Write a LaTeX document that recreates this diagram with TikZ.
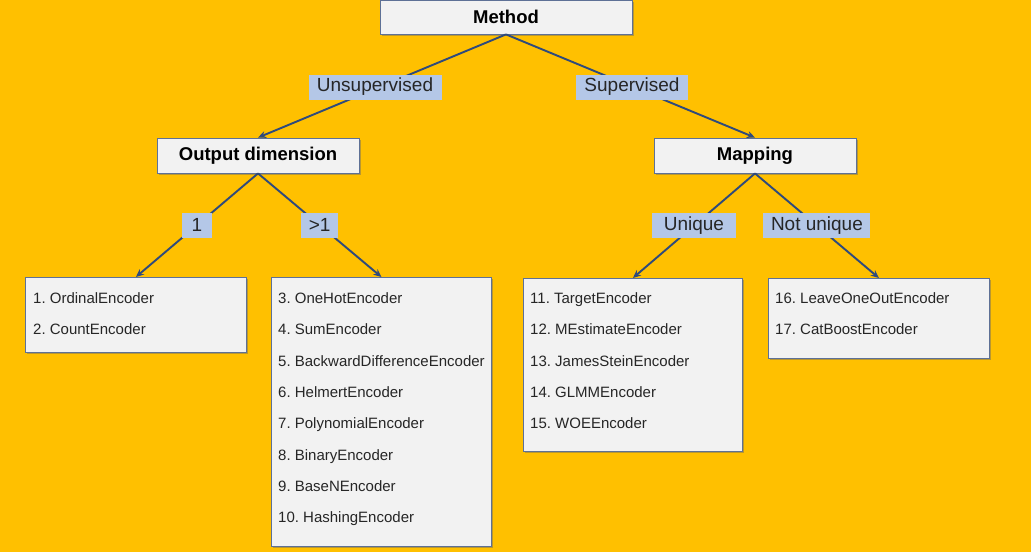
\documentclass[tikz,border=0pt]{standalone}
\usepackage{fontspec}
\setmainfont{Liberation Sans}
\usetikzlibrary{shadows,arrows.meta}
\definecolor{bg}{HTML}{FFC000}
\definecolor{boxfill}{HTML}{F2F2F2}
\definecolor{boxline}{HTML}{5E7196}
\definecolor{labfill}{HTML}{B4C7E7}
\definecolor{conn}{HTML}{2F4A7C}
\frenchspacing
\begin{document}
\begin{tikzpicture}[x=1pt,y=-1pt,
  shad/.style={drop shadow={shadow xshift=2pt,shadow yshift=-2pt,opacity=0.45,fill=black!60}},
  title/.style={draw=boxline,line width=0.8pt,fill=boxfill,shad,inner sep=0pt,
    font=\fontsize{18.5}{22}\selectfont\bfseries},
  listbox/.style={draw=boxline,line width=0.8pt,fill=boxfill,shad,inner sep=0pt,anchor=north west},
  items/.style={anchor=north west,inner sep=0pt,align=left,text=black!85,
    font=\fontsize{15}{31.3}\selectfont},
  lab/.style={fill=labfill,inner sep=0pt,minimum height=25pt,text=black!85,
    font=\fontsize{19}{22}\selectfont},
  conn/.style={draw=conn,line width=1.9pt,-{Stealth[length=8pt,width=7pt]}}
]
\fill[bg] (0,0) rectangle (1031,552);
\useasboundingbox (0,0) rectangle (1031,552);

% title boxes
\node[title,minimum width=252pt,minimum height=34pt] (method) at (506,17) {Method};
\node[title,minimum width=202pt,minimum height=35pt] (od) at (258,155.5) {Output dimension};
\node[title,minimum width=202pt,minimum height=35pt] (map) at (755,155.5) {Mapping};

% list boxes
\node[listbox,minimum width=221pt,minimum height=75pt] (b1) at (25,277) {};
\node[listbox,minimum width=220pt,minimum height=269pt] (b2) at (271,277) {};
\node[listbox,minimum width=219pt,minimum height=173pt] (b3) at (523,278) {};
\node[listbox,minimum width=221pt,minimum height=80pt] (b4) at (768,278) {};

\node[items] (t1) at ([xshift=8pt,yshift=-15.5pt]b1.north west)
  {1. OrdinalEncoder\\2. CountEncoder};
\node[items] (t2) at ([xshift=7pt,yshift=-15.5pt]b2.north west)
  {3. OneHotEncoder\\4. SumEncoder\\5. BackwardDifferenceEncoder\\6. HelmertEncoder\\7. PolynomialEncoder\\8. BinaryEncoder\\9. BaseNEncoder\\10. HashingEncoder};
\node[items] (t3) at ([xshift=7pt,yshift=-14.5pt]b3.north west)
  {11. TargetEncoder\\12. MEstimateEncoder\\13. JamesSteinEncoder\\14. GLMMEncoder\\15. WOEEncoder};
\node[items] (t4) at ([xshift=7pt,yshift=-14.5pt]b4.north west)
  {16. LeaveOneOutEncoder\\17. CatBoostEncoder};

% connectors
\draw[conn] (method.south) -- node[lab,minimum width=133pt,xshift=-7pt,yshift=-1pt] (lu) {Unsupervised} (od.north);
\draw[conn] (method.south) -- node[lab,minimum width=112pt,xshift=1.5pt,yshift=-1pt] (ls) {Supervised} (map.north);
\draw[conn] (od.south) -- node[lab,minimum width=30pt] (l1) {1} (b1.north);
\draw[conn] (od.south) -- node[lab,minimum width=37pt] (l2) {>1} (b2.north);
\draw[conn] (map.south) -- node[lab,minimum width=84pt] (l3) {Unique} (b3.north);
\draw[conn] (map.south) -- node[lab,minimum width=107pt] (l4) {Not unique} (b4.north);
\end{tikzpicture}
\end{document}
